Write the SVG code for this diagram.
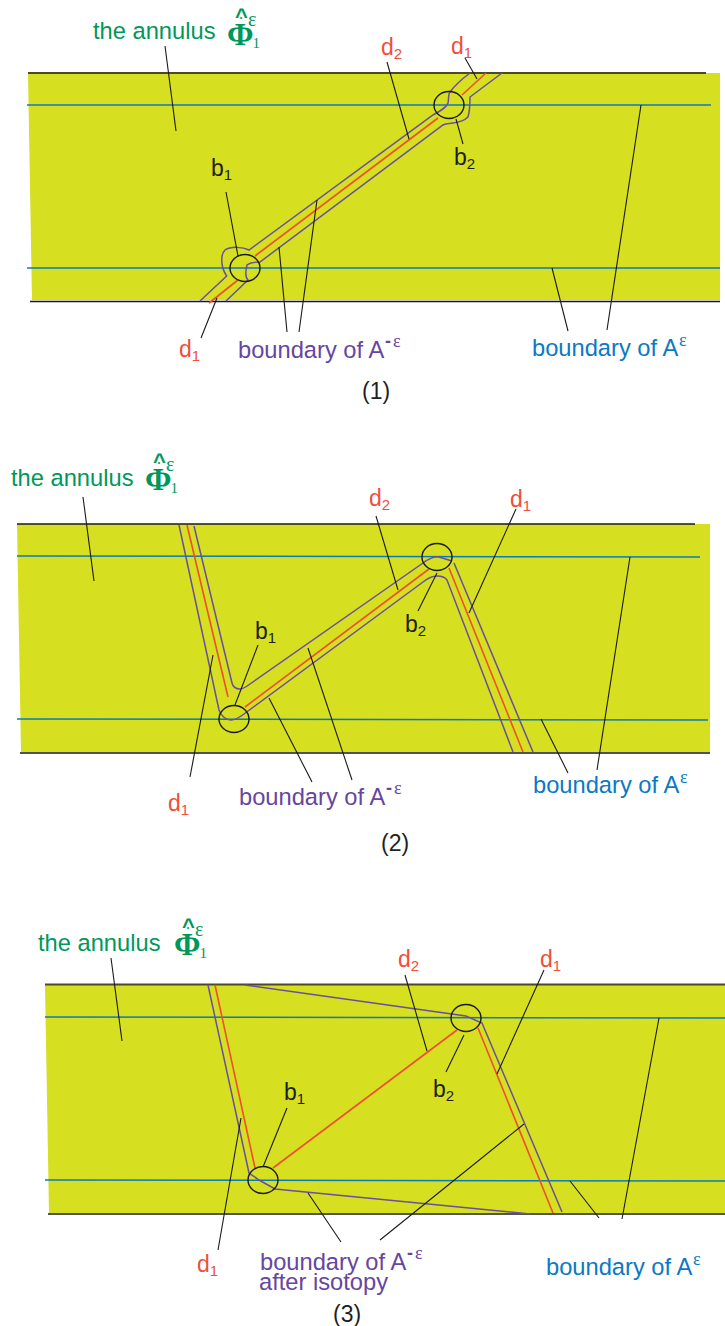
<svg xmlns="http://www.w3.org/2000/svg" width="725" height="1326" viewBox="0 0 725 1326">
<style>
text{font-family:"Liberation Sans",Arial,sans-serif;font-size:23.700px}
.l{font-size:23px}
.s{font-size:15px}
.f{fill:#d6df20;stroke:none}
.k{fill:none;stroke:#1a1a1a;stroke-width:1.1}
.e{fill:none;stroke:#1a1a18;stroke-width:1.6}
.t{fill:none;stroke:#4a4a2a;stroke-width:1.8}
.b{fill:none;stroke:#0b7cb8;stroke-width:1.5}
.p{fill:none;stroke:#6a4ea0;stroke-width:1.5}
.r{fill:none;stroke:#f04e30;stroke-width:1.6}
.c{fill:none;stroke:#1a1a1a;stroke-width:1.4}
.tk{fill:#1f1f1f}.tr{fill:#f04e3a}.tp{fill:#6646a0}.tb{fill:#0b79c4}.tg{fill:#00985a}
.ph{font-family:"Liberation Serif","Times New Roman",serif;font-size:32px;font-weight:bold;fill:#00985a}
.ht{font-family:"Liberation Sans",Arial,sans-serif;font-size:22px;font-weight:bold}
.dt{font-family:"Liberation Serif",serif;font-size:12px;font-weight:bold}
.ep{font-family:"Liberation Serif",serif;font-size:20px;font-weight:normal}
.on{font-family:"Liberation Serif",serif;font-size:15px;font-weight:normal}
.sp{font-family:"Liberation Serif",serif;font-size:18px}
.dh{font-size:18px;font-weight:bold}
</style>
<g id="panel1">
<polygon class="f" points="28,73 720,73 720,300 32,300"/>
<path class="t" d="M28,73H706"/><path class="e" d="M30,301.500H720"/>
<path class="b" d="M27,105H711M27,268H720"/>
<g id="connectors1">
<path class="p" d="M200,301L226.700,276C221,268 220,255 225,250C231,246 243,247 249,250L433,115C442,110 447,107 448,103C449,98 448,94 450,92C455,85 462,79 470,73"/>
<path class="p" d="M226,301L248,280C245,277 245,273 247,265C250,262 255,262 260,262L443,125C447,123 450,124 453,123C461,122 466,119 468,117C470,110 470,102 470,97L502,73"/>
<path class="r" d="M209,303L238,280M255,256L438,118M462,95L486,73"/>
<path class="k" d="M165,46L176,131M226,192L238,256M201,338L217,298M279,247L287,332M317,200L299,332M552,268L568,331M641,105L607,330M387,62L409,139M465,58L477,79M456,119L463,144"/>
</g>
<ellipse class="c" cx="245" cy="268" rx="15" ry="13.500"/><ellipse class="c" cx="449" cy="105" rx="15" ry="13.500"/>
<text class="tg" x="93" y="39">the annulus</text>
<text class="ph" x="227" y="45">Φ<tspan class="ht" x="235" y="24">^</tspan><tspan class="dt" x="239.500" y="19">.</tspan><tspan class="ep" x="248" y="26">ε</tspan><tspan class="on" x="252.500" y="48">1</tspan></text>
<text class="tr l" x="381" y="55">d<tspan class="s" dy="4">2</tspan></text>
<text class="tr l" x="451" y="54">d<tspan class="s" dy="4">1</tspan></text>
<text class="tr l" x="179" y="357">d<tspan class="s" dy="4">1</tspan></text>
<text class="tk l" x="211" y="176">b<tspan class="s" dy="4">1</tspan></text>
<text class="tk l" x="454" y="165">b<tspan class="s" dy="4">2</tspan></text>
<text class="tp" x="238" y="358">boundary of A<tspan class="dh" x="385" y="347">-</tspan><tspan class="sp" x="393" y="347">ε</tspan></text>
<text class="tb" x="532" y="356">boundary of A<tspan class="sp" x="679" y="346">ε</tspan></text>
<text class="tk l" x="362" y="399">(1)</text>
</g>
<g id="panel2">
<polygon class="f" points="17,524 710,524 710,752 21,752"/>
<path class="e" d="M17,524H695M20,753H710"/>
<path class="b" d="M17,556L700,557M17,719L708,720"/>
<g id="connectors2">
<path class="p" d="M179,525L219,710C221,716 226,720 231,720C235,720 240,717 244,714L423,582C428,578 432,576 437,576C441,576 445,577 447,580L513,752"/>
<path class="p" d="M194,526L232,683C233,687 236,689 240,689C243,689 246,687 250,684L423,563C428,559 435,556 439,557L452,561M454,563L533,752"/>
<path class="r" d="M187,525L228,697M245,707L429,569M449,568L523,752"/>
<path class="k" d="M83,497L94,581M258,645L235,705M213,655L190,777M376,516L398,590M437,573L418,611M516,509L469,613M269,698L312,782M308,648L352,780M541,719L568,773M630,557L597,770"/>
</g>
<ellipse class="c" cx="234" cy="719" rx="15" ry="13.500"/><ellipse class="c" cx="437" cy="557" rx="15" ry="13.500"/>
<text class="tg" x="11" y="486">the annulus</text>
<text class="ph" x="145" y="490">Φ<tspan class="ht" x="153" y="469">^</tspan><tspan class="dt" x="157.500" y="464">.</tspan><tspan class="ep" x="166" y="471">ε</tspan><tspan class="on" x="170.500" y="493">1</tspan></text>
<text class="tr l" x="369" y="506">d<tspan class="s" dy="4">2</tspan></text>
<text class="tr l" x="510" y="507">d<tspan class="s" dy="4">1</tspan></text>
<text class="tr l" x="168" y="811">d<tspan class="s" dy="4">1</tspan></text>
<text class="tk l" x="255" y="639">b<tspan class="s" dy="4">1</tspan></text>
<text class="tk l" x="405" y="632">b<tspan class="s" dy="4">2</tspan></text>
<text class="tp" x="239" y="805">boundary of A<tspan class="dh" x="386" y="794">-</tspan><tspan class="sp" x="394" y="794">ε</tspan></text>
<text class="tb" x="533" y="793">boundary of A<tspan class="sp" x="680" y="783">ε</tspan></text>
<text class="tk l" x="381" y="851">(2)</text>
</g>
<g id="panel3">
<polygon class="f" points="45,985 725,985 725,1213 49,1213"/>
<path class="t" d="M45,984.500H725"/><path class="e" d="M48,1214H725"/>
<path class="b" d="M45,1017L725,1018M45,1180L725,1181"/>
<g id="connectors3">
<path class="p" d="M208,985L249,1173L259,1180L275,1189L530,1214"/>
<path class="p" d="M245,985L466,1016L482,1023L562,1212"/>
<path class="r" d="M215,985L255,1168M273,1168L457,1030M478,1028L553,1213"/>
<path class="k" d="M111,958L122,1041M287,1108L263,1167M241,1118L218,1250M405,975L427,1051M464,1035L446,1072M544,970L497,1074M308,1193L341,1242M524,1124L380,1240M570,1181L599,1218M659,1018L622,1219"/>
</g>
<ellipse class="c" cx="263" cy="1180" rx="15" ry="13.500"/><ellipse class="c" cx="466" cy="1018" rx="15" ry="13.500"/>
<text class="tg" x="38" y="951">the annulus</text>
<text class="ph" x="174" y="955">Φ<tspan class="ht" x="182" y="934">^</tspan><tspan class="dt" x="186.500" y="929">.</tspan><tspan class="ep" x="195" y="936">ε</tspan><tspan class="on" x="199.500" y="958">1</tspan></text>
<text class="tr l" x="398" y="967">d<tspan class="s" dy="4">2</tspan></text>
<text class="tr l" x="540" y="967">d<tspan class="s" dy="4">1</tspan></text>
<text class="tr l" x="197" y="1272">d<tspan class="s" dy="4">1</tspan></text>
<text class="tk l" x="284" y="1100">b<tspan class="s" dy="4">1</tspan></text>
<text class="tk l" x="433" y="1097">b<tspan class="s" dy="4">2</tspan></text>
<text class="tp" x="260" y="1270">boundary of A<tspan class="dh" x="407" y="1259">-</tspan><tspan class="sp" x="415" y="1259">ε</tspan></text>
<text class="tp" x="259" y="1290">after isotopy</text>
<text class="tb" x="546" y="1275">boundary of A<tspan class="sp" x="693" y="1265">ε</tspan></text>
<text class="tk l" x="333" y="1322">(3)</text>
</g>
</svg>
